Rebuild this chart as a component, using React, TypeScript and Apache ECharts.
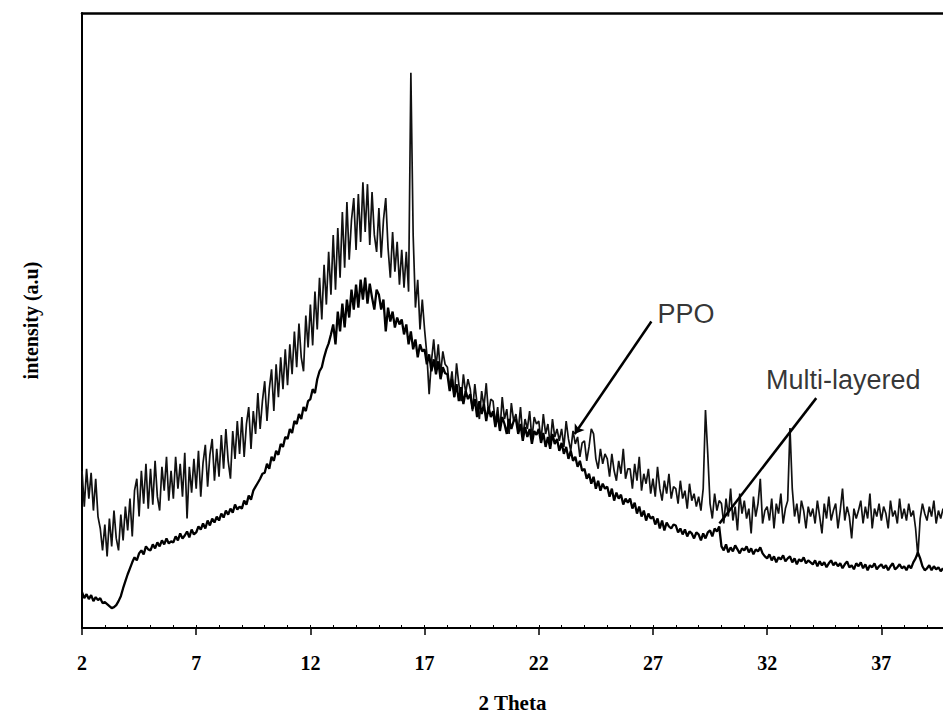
import React, { useEffect, useRef } from "react";
import * as echarts from "echarts";

// Sampling grid of the scan (degrees 2θ): 2.0 .. 39.7 in 0.1 steps
const START_2THETA = 2.0;
const STEP_2THETA = 0.1;

// Upper trace (intensity, a.u.), one row per degree
const ppo = [
  158, 122, 160, 130, 156, 118, 150, 112, 100, 78, // 2
  104, 72, 110, 82, 118, 90, 78, 114, 88, 122, // 3
  98, 130, 92, 138, 150, 112, 158, 125, 165, 120, // 4
  160, 124, 168, 132, 118, 162, 138, 172, 128, 158, // 5
  130, 172, 140, 165, 132, 176, 110, 162, 136, 170, // 6
  140, 178, 132, 166, 184, 142, 174, 190, 148, 180, // 7
  152, 194, 160, 200, 168, 150, 198, 170, 208, 175, // 8
  212, 172, 205, 222, 180, 218, 195, 236, 200, 228, // 9
  248, 208, 240, 260, 218, 265, 232, 272, 240, 280, // 10
  244, 285, 255, 298, 262, 306, 272, 258, 314, 282, // 11
  325, 284, 338, 300, 352, 310, 365, 325, 378, 335, // 12
  395, 340, 402, 352, 418, 362, 428, 370, 410, 432, // 13
  380, 436, 388, 448, 398, 446, 385, 438, 395, 378, // 14
  422, 372, 410, 432, 382, 352, 398, 358, 388, 345, // 15
  380, 342, 378, 338, 558, 395, 322, 350, 300, 330, // 16
  300, 275, 235, 268, 290, 262, 285, 255, 278, 265, // 17
  262, 240, 258, 232, 266, 245, 228, 255, 236, 250, // 18
  240, 218, 245, 225, 210, 238, 222, 246, 215, 230, // 19
  228, 205, 222, 198, 232, 210, 220, 195, 226, 208, // 20
  215, 198, 222, 192, 210, 200, 218, 190, 212, 205, // 21
  208, 188, 215, 195, 205, 184, 210, 192, 200, 188, // 22
  200, 182, 208, 190, 178, 198, 185, 192, 172, 186, // 23
  188, 168, 182, 200, 195, 170, 160, 180, 165, 175, // 24
  170, 152, 175, 158, 148, 168, 155, 180, 150, 160, // 25
  160, 140, 165, 148, 172, 138, 155, 145, 160, 135, // 26
  150, 132, 162, 140, 128, 148, 135, 155, 130, 142, // 27
  140, 125, 148, 130, 138, 120, 145, 128, 135, 122, // 28
  132, 118, 140, 219, 175, 125, 110, 135, 118, 128, // 29
  125, 105, 130, 112, 140, 108, 122, 98, 135, 115, // 30
  128, 110, 120, 95, 132, 112, 125, 150, 105, 118, // 31
  122, 108, 130, 100, 125, 115, 135, 105, 120, 128, // 32
  201, 140, 112, 125, 105, 128, 118, 100, 122, 112, // 33
  120, 105, 128, 112, 95, 125, 110, 132, 108, 118, // 34
  125, 100, 118, 140, 108, 122, 112, 90, 120, 110, // 35
  118, 128, 105, 122, 110, 135, 100, 120, 112, 125, // 36
  108, 122, 115, 100, 128, 112, 118, 105, 130, 110, // 37
  120, 108, 125, 112, 118, 100, 72, 110, 125, 115, // 38
  108, 122, 112, 128, 105, 118, 110, 120, // 39
];

// Lower trace (intensity, a.u.)
const multiLayered = [
  36, 30, 34, 29, 33, 27, 31, 28, 30, 25, // 2
  26, 24, 22, 20, 21, 23, 27, 32, 40, 47, // 3
  54, 60, 66, 71, 68, 75, 78, 74, 82, 79, // 4
  78, 84, 80, 86, 82, 88, 84, 90, 85, 87, // 5
  86, 92, 88, 95, 90, 93, 97, 91, 99, 94, // 6
  96, 102, 99, 105, 100, 108, 103, 110, 106, 112, // 7
  108, 115, 111, 118, 114, 120, 116, 124, 119, 122, // 8
  120, 128, 124, 133, 129, 138, 142, 146, 150, 155, // 9
  156, 165, 160, 172, 168, 178, 174, 185, 182, 192, // 10
  190, 200, 196, 208, 205, 215, 210, 222, 218, 228, // 11
  230, 240, 236, 250, 258, 262, 272, 280, 286, 295, // 12
  305, 285, 318, 298, 326, 302, 330, 312, 340, 320, // 13
  345, 322, 350, 330, 352, 326, 346, 332, 320, 340, // 14
  335, 320, 330, 298, 322, 308, 318, 302, 312, 305, // 15
  310, 295, 305, 285, 298, 280, 290, 272, 285, 278, // 16
  280, 265, 275, 258, 270, 255, 268, 250, 262, 256, // 17
  255, 238, 250, 232, 245, 228, 242, 225, 238, 230, // 18
  235, 220, 230, 212, 228, 215, 225, 208, 222, 212, // 19
  218, 202, 215, 198, 212, 205, 195, 210, 200, 208, // 20
  210, 195, 205, 188, 202, 192, 200, 185, 198, 194, // 21
  200, 186, 196, 182, 192, 180, 195, 185, 190, 178, // 22
  186, 175, 182, 170, 178, 168, 172, 162, 168, 158, // 23
  160, 150, 155, 145, 152, 140, 148, 138, 145, 140, // 24
  142, 132, 140, 128, 136, 130, 134, 124, 130, 126, // 25
  130, 120, 126, 115, 122, 112, 118, 108, 115, 110, // 26
  112, 104, 110, 100, 108, 98, 106, 102, 100, 104, // 27
  103, 96, 100, 94, 99, 92, 97, 95, 90, 96, // 28
  94, 88, 95, 90, 96, 98, 92, 100, 97, 102, // 29
  82, 78, 84, 76, 81, 77, 83, 79, 75, 80, // 30
  78, 82, 76, 80, 74, 79, 77, 81, 75, 72, // 31
  70, 74, 68, 72, 66, 71, 69, 73, 67, 70, // 32
  72, 66, 70, 64, 69, 67, 71, 65, 68, 66, // 33
  64, 68, 62, 67, 63, 66, 61, 65, 68, 63, // 34
  66, 62, 65, 60, 64, 67, 61, 63, 59, 65, // 35
  62, 66, 60, 64, 58, 63, 61, 65, 59, 62, // 36
  64, 60, 63, 58, 62, 65, 59, 61, 64, 60, // 37
  62, 58, 63, 60, 66, 70, 76, 70, 62, 58, // 38
  60, 63, 58, 62, 59, 61, 57, 60, // 39
];

// Annotation labels and their leader lines (data coordinates)
const annotationNames = ["PPO", "Multi-layered"];
const annotationTextAt = [
  [27.2, 316],
  [31.95, 249],
];
const leaderFrom = [
  [23.57, 195],
  [29.91, 105],
];
const leaderTo = [
  [26.93, 308],
  [34.15, 231],
];

const X_MIN = 2;
const X_MAX = 39.7;
const Y_MAX = 618;

const toPairs = (vals: number[]) =>
  vals.map((v, i) => [Number((START_2THETA + i * STEP_2THETA).toFixed(1)), v]);

export default function App() {
  const ref = useRef<HTMLDivElement>(null);
  useEffect(() => {
    if (!ref.current) return;
    const chart = echarts.init(ref.current, undefined, { renderer: "svg" });
    const serif = "'Liberation Serif', 'Times New Roman', serif";
    chart.setOption({
      animation: false,
      backgroundColor: "#ffffff",
      grid: { left: 82, right: 0, top: 13, bottom: 87, containLabel: false },
      xAxis: [
        {
          type: "value",
          min: X_MIN,
          max: X_MAX,
          interval: 5,
          position: "bottom",
          name: "2 Theta",
          nameLocation: "middle",
          nameGap: 64,
          nameTextStyle: { fontFamily: serif, fontWeight: "bold", fontSize: 21, color: "#000" },
          axisLine: { show: true, onZero: false, lineStyle: { color: "#000", width: 2 } },
          axisTick: { show: true, inside: false, length: 7, lineStyle: { color: "#000", width: 1.5 } },
          axisLabel: {
            show: true,
            showMaxLabel: false,
            margin: 25,
            fontFamily: serif,
            fontWeight: "bold",
            fontSize: 20,
            color: "#000",
            formatter: (v: number) => (Math.abs((v - 2) % 5) < 1e-6 ? String(v) : ""),
          },
          splitLine: { show: false },
        },
        {
          type: "value",
          min: X_MIN,
          max: X_MAX,
          position: "top",
          axisLine: { show: true, onZero: false, lineStyle: { color: "#000", width: 2.5 } },
          axisTick: { show: false },
          axisLabel: { show: false },
          splitLine: { show: false },
        },
        {
          type: "value",
          min: X_MIN,
          max: X_MAX,
          interval: 1,
          position: "bottom",
          axisLine: { show: false, onZero: false },
          axisTick: { show: true, inside: true, length: 3, lineStyle: { color: "#000", width: 1 } },
          axisLabel: { show: false },
          splitLine: { show: false },
        },
      ],
      yAxis: {
        type: "value",
        min: 0,
        max: Y_MAX,
        name: "intensity (a.u)",
        nameLocation: "middle",
        nameGap: 41,
        nameRotate: 90,
        nameTextStyle: { fontFamily: serif, fontWeight: "bold", fontSize: 20, color: "#000" },
        axisLine: { show: true, lineStyle: { color: "#000", width: 2 } },
        axisTick: { show: false },
        axisLabel: { show: false },
        splitLine: { show: false },
      },
      series: [
        {
          name: "PPO",
          type: "line",
          data: toPairs(ppo),
          showSymbol: false,
          symbol: "none",
          lineStyle: { color: "#111", width: 1.7 },
          silent: true,
        },
        {
          name: "Multi-layered",
          type: "line",
          data: toPairs(multiLayered),
          showSymbol: false,
          symbol: "none",
          lineStyle: { color: "#000", width: 2.3 },
          silent: true,
        },
        {
          name: "annotations",
          type: "scatter",
          symbolSize: 0,
          silent: true,
          data: annotationNames.map((n, i) => ({ name: n, value: annotationTextAt[i] })),
          label: {
            show: true,
            position: "right",
            distance: 0,
            formatter: "{b}",
            fontFamily: "'Liberation Sans', Arial, sans-serif",
            fontSize: 27,
            color: "#000",
          },
          markLine: {
            silent: true,
            symbol: ["none", "none"],
            label: { show: false },
            lineStyle: { color: "#000", width: 2.5, type: "solid" },
            data: annotationNames.map((_, i) => [
              {
                coord: leaderFrom[i],
                symbol: i === 0 ? "arrow" : "none",
                symbolSize: 9,
              },
              { coord: leaderTo[i] },
            ]),
          },
        },
      ],
    });
    return () => chart.dispose();
  }, []);
  return <div ref={ref} style={{ width: 943, height: 718, position: "absolute", left: 0, top: 0 }} />;
}
